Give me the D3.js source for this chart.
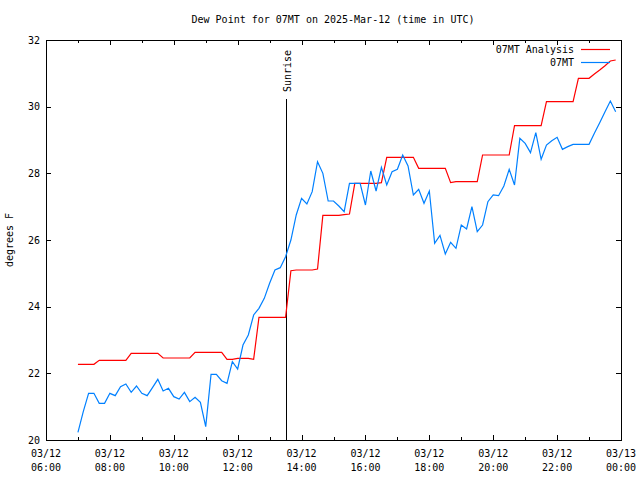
<!DOCTYPE html>
<html><head><meta charset="utf-8">
<script src="https://cdn.jsdelivr.net/npm/d3@7"></script>
<style>
body{margin:0;background:#fff;}
text{font-family:"DejaVu Sans Mono",monospace;font-size:10px;fill:#000;}
</style></head>
<body><svg id="c" width="640" height="480"></svg>
<script>
const times = ["07:00","07:10","07:20","07:30","07:40","07:50",
"08:00","08:10","08:20","08:30","08:40","08:50",
"09:00","09:10","09:20","09:30","09:40","09:50",
"10:00","10:10","10:20","10:30","10:40","10:50",
"11:00","11:10","11:20","11:30","11:40","11:50",
"12:00","12:10","12:20","12:30","12:40","12:50",
"13:00","13:10","13:20","13:30","13:40","13:50",
"14:00","14:10","14:20","14:30","14:40","14:50",
"15:00","15:10","15:20","15:30","15:40","15:50",
"16:00","16:10","16:20","16:30","16:40","16:50",
"17:00","17:10","17:20","17:30","17:40","17:50",
"18:00","18:10","18:20","18:30","18:40","18:50",
"19:00","19:10","19:20","19:30","19:40","19:50",
"20:00","20:10","20:20","20:30","20:40","20:50",
"21:00","21:10","21:20","21:30","21:40","21:50",
"22:00","22:10","22:20","22:30","22:40","22:50",
"23:00","23:10","23:20","23:30","23:40","23:50"];

const observed = [20.23,20.85,21.4,21.4,21.1,21.1,
21.4,21.33,21.6,21.68,21.43,21.62,
21.4,21.33,21.57,21.82,21.47,21.55,
21.3,21.23,21.43,21.15,21.28,21.13,
20.4,21.97,21.97,21.78,21.7,22.35,
22.13,22.85,23.15,23.75,23.95,24.25,
24.7,25.1,25.17,25.5,26.0,26.75,
27.25,27.08,27.45,28.35,28.0,27.17,
27.17,27.02,26.85,27.7,27.7,27.7,
27.05,28.07,27.47,28.18,27.65,28.05,
28.12,28.55,28.22,27.35,27.52,27.1,
27.47,25.9,26.14,25.58,25.93,25.75,
26.45,26.33,27.0,26.25,26.45,27.15,
27.35,27.33,27.62,28.12,27.65,29.05,
28.9,28.62,29.22,28.42,28.85,28.98,
29.08,28.72,28.8,28.87,28.87,28.87,
28.87,29.2,29.52,29.85,30.17,29.85];

const analysis = [22.27,22.27,22.27,22.27,22.39,22.39,
22.39,22.39,22.39,22.39,22.6,22.6,
22.6,22.6,22.6,22.6,22.46,22.46,
22.46,22.46,22.46,22.46,22.63,22.63,
22.63,22.63,22.63,22.63,22.42,22.42,
22.45,22.45,22.45,22.42,23.68,23.68,
23.68,23.68,23.68,23.68,25.08,25.1,
25.1,25.1,25.1,25.13,26.74,26.74,
26.74,26.74,26.76,26.78,27.7,27.7,
27.7,27.7,27.7,27.72,28.48,28.48,
28.48,28.48,28.48,28.48,28.15,28.15,
28.15,28.15,28.15,28.15,27.72,27.75,
27.75,27.75,27.75,27.75,28.55,28.55,
28.55,28.55,28.55,28.55,29.43,29.43,
29.43,29.43,29.43,29.43,30.15,30.15,
30.15,30.15,30.15,30.15,30.85,30.85,
30.85,30.98,31.1,31.23,31.37,31.4];

const yTicks = [20,22,24,26,28,30,32];
const xTickTimes = ["2025-03-12T06:00Z","2025-03-12T08:00Z","2025-03-12T10:00Z","2025-03-12T12:00Z","2025-03-12T14:00Z","2025-03-12T16:00Z","2025-03-12T18:00Z","2025-03-12T20:00Z","2025-03-12T22:00Z","2025-03-13T00:00Z"];
const xTickLabels = [["03/12","06:00"],["03/12","08:00"],["03/12","10:00"],["03/12","12:00"],["03/12","14:00"],["03/12","16:00"],["03/12","18:00"],["03/12","20:00"],["03/12","22:00"],["03/13","00:00"]];
const sunriseTime = "2025-03-12T13:31Z";
const seriesNames = ["07MT Analysis","07MT"];
const titleText = "Dew Point for 07MT on 2025-Mar-12 (time in UTC)";

const L=46,R=621,T=40,B=440;
const svg=d3.select("#c");
const x=d3.scaleUtc().domain([new Date("2025-03-12T06:00Z"),new Date("2025-03-13T00:00Z")]).range([L,R]);
const y=d3.scaleLinear().domain([20,32]).range([B,T]);
const parseT = s => new Date("2025-03-12T"+s+":00Z");

// minor ticks (hourly)
const hourly = d3.utcHour.range(new Date("2025-03-12T06:00Z"), new Date("2025-03-13T00:00:01Z"));
const major = xTickTimes.map(d=>new Date(d));
function ax(g){g.select(".domain").remove();g.selectAll("text").remove();g.selectAll("line").attr("stroke","#000").attr("shape-rendering","crispEdges");}
svg.append("g").attr("transform",`translate(0,${B})`).call(d3.axisTop(x).tickValues(hourly).tickSize(3)).call(ax);
svg.append("g").attr("transform",`translate(0,${T})`).call(d3.axisBottom(x).tickValues(hourly).tickSize(3)).call(ax);
svg.append("g").attr("transform",`translate(0,${B})`).call(d3.axisTop(x).tickValues(major).tickSize(5)).call(ax);
svg.append("g").attr("transform",`translate(0,${T})`).call(d3.axisBottom(x).tickValues(major).tickSize(5)).call(ax);
svg.append("g").attr("transform",`translate(${L},0)`).call(d3.axisRight(y).tickValues(yTicks).tickSize(5)).call(ax);
svg.append("g").attr("transform",`translate(${R},0)`).call(d3.axisLeft(y).tickValues(yTicks).tickSize(5)).call(ax);

// y labels
svg.append("g").selectAll("text").data(yTicks).join("text")
 .attr("x",40).attr("y",d=>y(d)).attr("dy","0.35em").attr("text-anchor","end").text(d=>d);
// x labels
const xl=svg.append("g").selectAll("text").data(major).join("text")
 .attr("text-anchor","middle");
xl.append("tspan").attr("x",d=>x(d)).attr("y",457).text((d,i)=>xTickLabels[i][0]);
xl.append("tspan").attr("x",d=>x(d)).attr("y",471).text((d,i)=>xTickLabels[i][1]);

// frame
svg.append("rect").attr("x",L+0.5).attr("y",T+0.5).attr("width",R-L).attr("height",B-T)
 .attr("fill","none").attr("stroke","#000").attr("shape-rendering","crispEdges");

// title & axis label
svg.append("text").attr("x",333).attr("y",23).attr("text-anchor","middle").text(titleText);
svg.append("text").attr("transform","translate(13,240) rotate(-90)").attr("text-anchor","middle").text("degrees F");

// sunrise
const sx=Math.round(x(new Date(sunriseTime)))+0.5;
svg.append("line").attr("x1",sx).attr("x2",sx).attr("y1",y(20)).attr("y2",99)
 .attr("stroke","#000").attr("shape-rendering","crispEdges");
svg.append("text").attr("transform",`translate(${sx+4},92) rotate(-90)`).attr("text-anchor","start").text("Sunrise");

// lines
const line=d3.line().x((d,i)=>x(parseT(times[i]))).y(d=>y(d));
svg.append("path").attr("d",line(analysis)).attr("fill","none").attr("stroke","#ff0000").attr("stroke-width",1.2);
svg.append("path").attr("d",line(observed)).attr("fill","none").attr("stroke","#0080ff").attr("stroke-width",1.2);

// legend
const colors=["#ff0000","#0080ff"];
seriesNames.forEach((n,i)=>{
  const ly=49.5+i*13;
  svg.append("text").attr("x",574).attr("y",ly).attr("dy","0.35em").attr("text-anchor","end").text(n);
  svg.append("line").attr("x1",581).attr("x2",610).attr("y1",ly).attr("y2",ly).attr("stroke",colors[i]).attr("stroke-width",1.2);
});
</script></body></html>
